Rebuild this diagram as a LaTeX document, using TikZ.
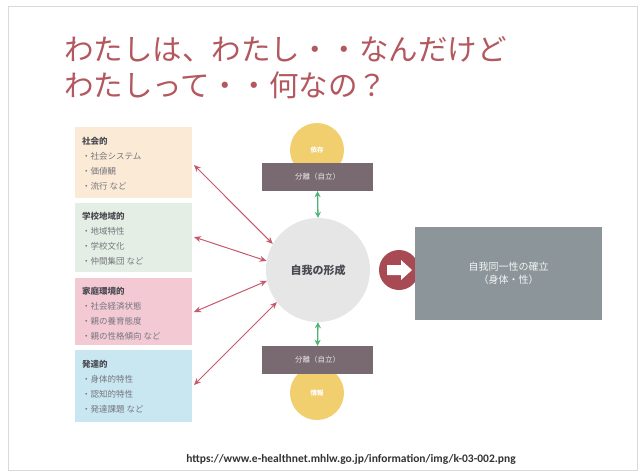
\documentclass[tikz,border=0pt]{standalone}
\usepackage{fontspec}
\setmainfont{Carlito}
\newfontfamily\jp{Noto Sans CJK JP}
\usetikzlibrary{arrows.meta,calc}
\definecolor{titlecol}{HTML}{B3585E}
\definecolor{boxA}{HTML}{FBEAD6}
\definecolor{boxB}{HTML}{E4EEE4}
\definecolor{boxC}{HTML}{F3C9D3}
\definecolor{boxD}{HTML}{C8E7F1}
\definecolor{redarrow}{HTML}{C65A6C}
\definecolor{greenarrow}{HTML}{4DB276}
\definecolor{barcol}{HTML}{786A70}
\definecolor{yellowc}{HTML}{F1CF6F}
\definecolor{centerc}{HTML}{E6E6E6}
\definecolor{maroon}{HTML}{A84A53}
\definecolor{slate}{HTML}{8C969A}
\definecolor{itemcol}{HTML}{76767E}
\definecolor{headcol}{HTML}{4A4A52}
\tikzset{
  factortext/.style={anchor=north west, align=left, font=\jp\fontsize{8.5}{15}\selectfont, text=itemcol, inner sep=0pt},
  relarrow/.style={{Stealth[length=7pt,width=6pt]}-{Stealth[length=7pt,width=6pt]}, draw=redarrow, line width=1pt},
  vertarrow/.style={{Stealth[length=6pt,width=6pt]}-{Stealth[length=6pt,width=6pt]}, draw=greenarrow, line width=1.3pt},
  barbox/.style={fill=barcol, minimum width=111pt, minimum height=28pt, inner sep=0pt, text=white!85!barcol, font=\jp\fontsize{7.5}{8}\selectfont},
  smallcirc/.style={circle, fill=yellowc, minimum size=54pt, inner sep=0pt, text=white, font=\jp\bfseries\fontsize{6.5}{7}\selectfont}
}
\begin{document}
\begin{tikzpicture}[x=1pt,y=-1pt]
\useasboundingbox (0,0) rectangle (643,474);
\fill[white] (0,0) rectangle (643,474);
\draw[black!15, line width=1pt] (8,6) rectangle (637,470);
% title
\node[anchor=north west, inner sep=0pt, text=titlecol, align=left, font=\jp\fontsize{29.5}{36}\selectfont] (title) at (64,36) {わたしは、わたし・・なんだけど\\わたしって・・何なの？};
% left factor boxes
\fill[boxA] (75,127) rectangle (192,198); \coordinate (bA) at (194,165);
\fill[boxB] (75,203) rectangle (192,272); \coordinate (bB) at (194,237);
\fill[boxC] (75,278) rectangle (192,345); \coordinate (bC) at (194,312);
\fill[boxD] (75,350) rectangle (192,422); \coordinate (bD) at (194,385);
\node[factortext] (tA) at (82,137) {{\bfseries\color{headcol}社会的}\\・社会システム\\・価値観\\・流行 など};
\node[factortext] (tB) at (82,212) {{\bfseries\color{headcol}学校地域的}\\・地域特性\\・学校文化\\・仲間集団 など};
\node[factortext] (tC) at (82,287) {{\bfseries\color{headcol}家庭環境的}\\・社会経済状態\\・親の養育態度\\・親の性格傾向 など};
\node[factortext] (tD) at (82,360) {{\bfseries\color{headcol}発達的}\\・身体的特性\\・認知的特性\\・発達課題 など};
% center
\node[circle, fill=centerc, minimum size=104pt, inner sep=0pt, font=\jp\bfseries\fontsize{11}{12}\selectfont, text=headcol] (self) at (318,270) {自我の形成};
% top
\node[smallcirc] (topc) at (317,150) {依存};
\node[barbox] (topbar) at (317.5,177) {分離（自立）};
% bottom
\node[smallcirc] (botc) at (317,393) {情報};
\node[barbox] (botbar) at (317.5,360) {分離（自立）};
\draw[vertarrow] (topbar.south) -- (self.north);
\draw[vertarrow] (self.south) -- (botbar.north);
% red arrows
\draw[relarrow] (bA) -- (self.150);
\draw[relarrow] (bB) -- (self.170);
\draw[relarrow] (bC) -- (self.192);
\draw[relarrow] (bD) -- (self.218);
% maroon circle arrow
\node[circle, fill=maroon, minimum size=40pt, inner sep=0pt] (go) at (399,270) {};
\fill[white] ($(go)+(-12,-5)$) -- ($(go)+(2,-5)$) -- ($(go)+(2,-10)$) -- ($(go)+(13,0)$) -- ($(go)+(2,10)$) -- ($(go)+(2,5)$) -- ($(go)+(-12,5)$) -- cycle;
% result box
\node[fill=slate, minimum width=187pt, minimum height=93pt, inner sep=0pt, align=center, text=white!90!slate, font=\jp\fontsize{10}{13}\selectfont] (result) at (508.5,273.5) {自我同一性の確立\\（身体・性）};
% url
\node[font=\bfseries\fontsize{11.5}{13}\selectfont, text=black!80, inner sep=0pt] (url) at (351,459) {https://www.e-healthnet.mhlw.go.jp/information/img/k-03-002.png};
\end{tikzpicture}
\end{document}
